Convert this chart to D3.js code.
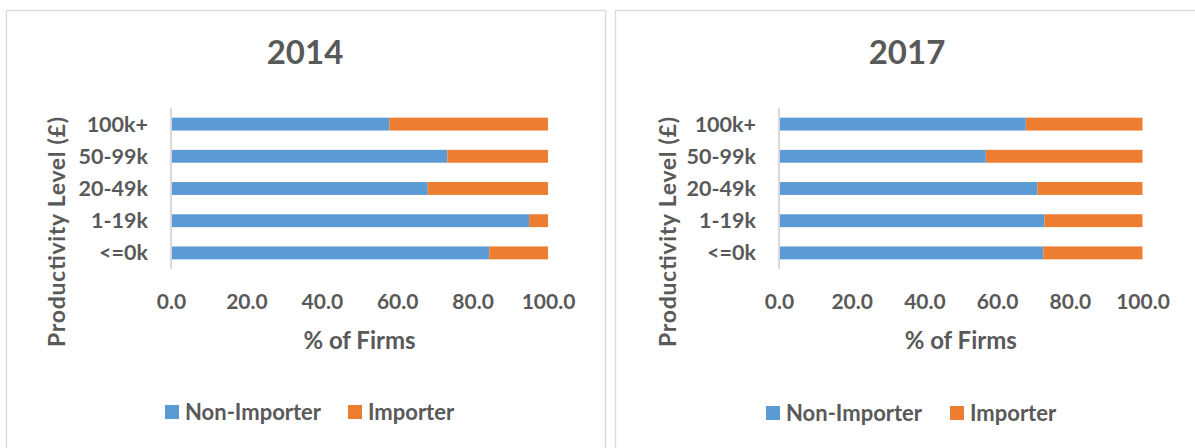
<!DOCTYPE html>
<html><head><meta charset="utf-8">
<script src="https://cdn.jsdelivr.net/npm/d3@7"></script>
<style>
body{margin:0;background:#fff;}
text{font-family:Lato,"Open Sans",sans-serif;font-weight:bold;fill:#595959;}
</style></head>
<body>
<svg id="c" width="1195" height="448"></svg>
<script>
const categories = ["100k+", "50-99k", "20-49k", "1-19k", "<=0k"];
const nonImporter2014 = [57.9, 73.3, 68.1, 95.0, 84.4];
const importer2014 = nonImporter2014.map(v => 100 - v);
const nonImporter2017 = [67.9, 56.9, 71.1, 73.0, 72.7];
const importer2017 = nonImporter2017.map(v => 100 - v);
const xTicks = [0, 20, 40, 60, 80, 100];
const seriesNames = ["Non-Importer", "Importer"];
const colors = ["#5B9BD5", "#ED7D31"];

const svg = d3.select("#c");

function panel(cfg) {
  const g = svg.append("g");
  g.append("rect").attr("x", cfg.px0 + 0.5).attr("y", 10.5).attr("width", cfg.px1 - cfg.px0).attr("height", 460)
    .attr("fill", "#fff").attr("stroke", "#d9d9d9").attr("stroke-width", 1.3);
  const x = d3.scaleLinear().domain([0, 100]).range([cfg.x0, cfg.x1]);
  const y = d3.scaleBand().domain(cfg.cats).range([108, 269]).paddingInner(0.6).paddingOuter(0.3);
  const stacked = cfg.cats.map((c, i) => ({cat: c, vals: [cfg.a[i], cfg.b[i]]}));
  stacked.forEach(d => {
    let acc = 0;
    d.vals.forEach((v, k) => {
      g.append("rect").attr("x", x(acc)).attr("y", y(d.cat)).attr("width", x(acc + v) - x(acc))
        .attr("height", y.bandwidth()).attr("fill", colors[k]);
      acc += v;
    });
  });
  // y axis
  const ya = g.append("g").attr("transform", `translate(${cfg.x0},0)`).call(d3.axisLeft(y).tickSize(0).tickPadding(23));
  ya.select(".domain").attr("stroke", "#d9d9d9").attr("stroke-width", 2).attr("d", `M0,108V269`);
  ya.selectAll("text").style("font-size", "21.5px").attr("fill", "#595959").attr("dy", "0.35em");
  // x axis labels
  const xa = g.append("g").attr("transform", `translate(0,302)`).call(d3.axisBottom(x).tickValues(xTicks).tickSize(0).tickFormat(d3.format(".1f")));
  xa.select(".domain").remove();
  xa.selectAll("text").style("font-size", "21px").attr("dy", "0.35em").attr("y", 0);
  // titles
  g.append("text").attr("x", cfg.tx).attr("y", 64).attr("text-anchor", "middle").style("font-size", "33px").text(cfg.title);
  g.append("text").attr("x", (cfg.x0 + cfg.x1) / 2).attr("y", 341).attr("dy", "0.35em").attr("text-anchor", "middle").style("font-size", "24px").text("% of Firms");
  g.append("text").attr("transform", `translate(${cfg.ytx},232) rotate(-90)`).attr("dy", "0.35em").attr("text-anchor", "middle")
    .style("font-size", "23px").attr("textLength", 230).attr("lengthAdjust", "spacing").text("Productivity Level (£)");
  // legend
  const lg = g.append("g").attr("transform", `translate(0,${cfg.ly})`);
  seriesNames.forEach((s, k) => {
    lg.append("rect").attr("x", cfg.lx[k]).attr("y", -7).attr("width", 14).attr("height", 14).attr("fill", colors[k]);
    lg.append("text").attr("x", cfg.lx[k] + 20).attr("y", 0).attr("dy", "0.35em").style("font-size", "22px").text(s);
  });
}

panel({px0: 6, px1: 605, x0: 171, x1: 548, cats: categories, a: nonImporter2014, b: importer2014, title: "2014", tx: 305, ytx: 57, ly: 412, lx: [165, 348]});
panel({px0: 615, px1: 1196, x0: 779, x1: 1142.5, cats: categories, a: nonImporter2017, b: importer2017, title: "2017", tx: 907, ytx: 668, ly: 413, lx: [766, 950]});
</script>
</body></html>
